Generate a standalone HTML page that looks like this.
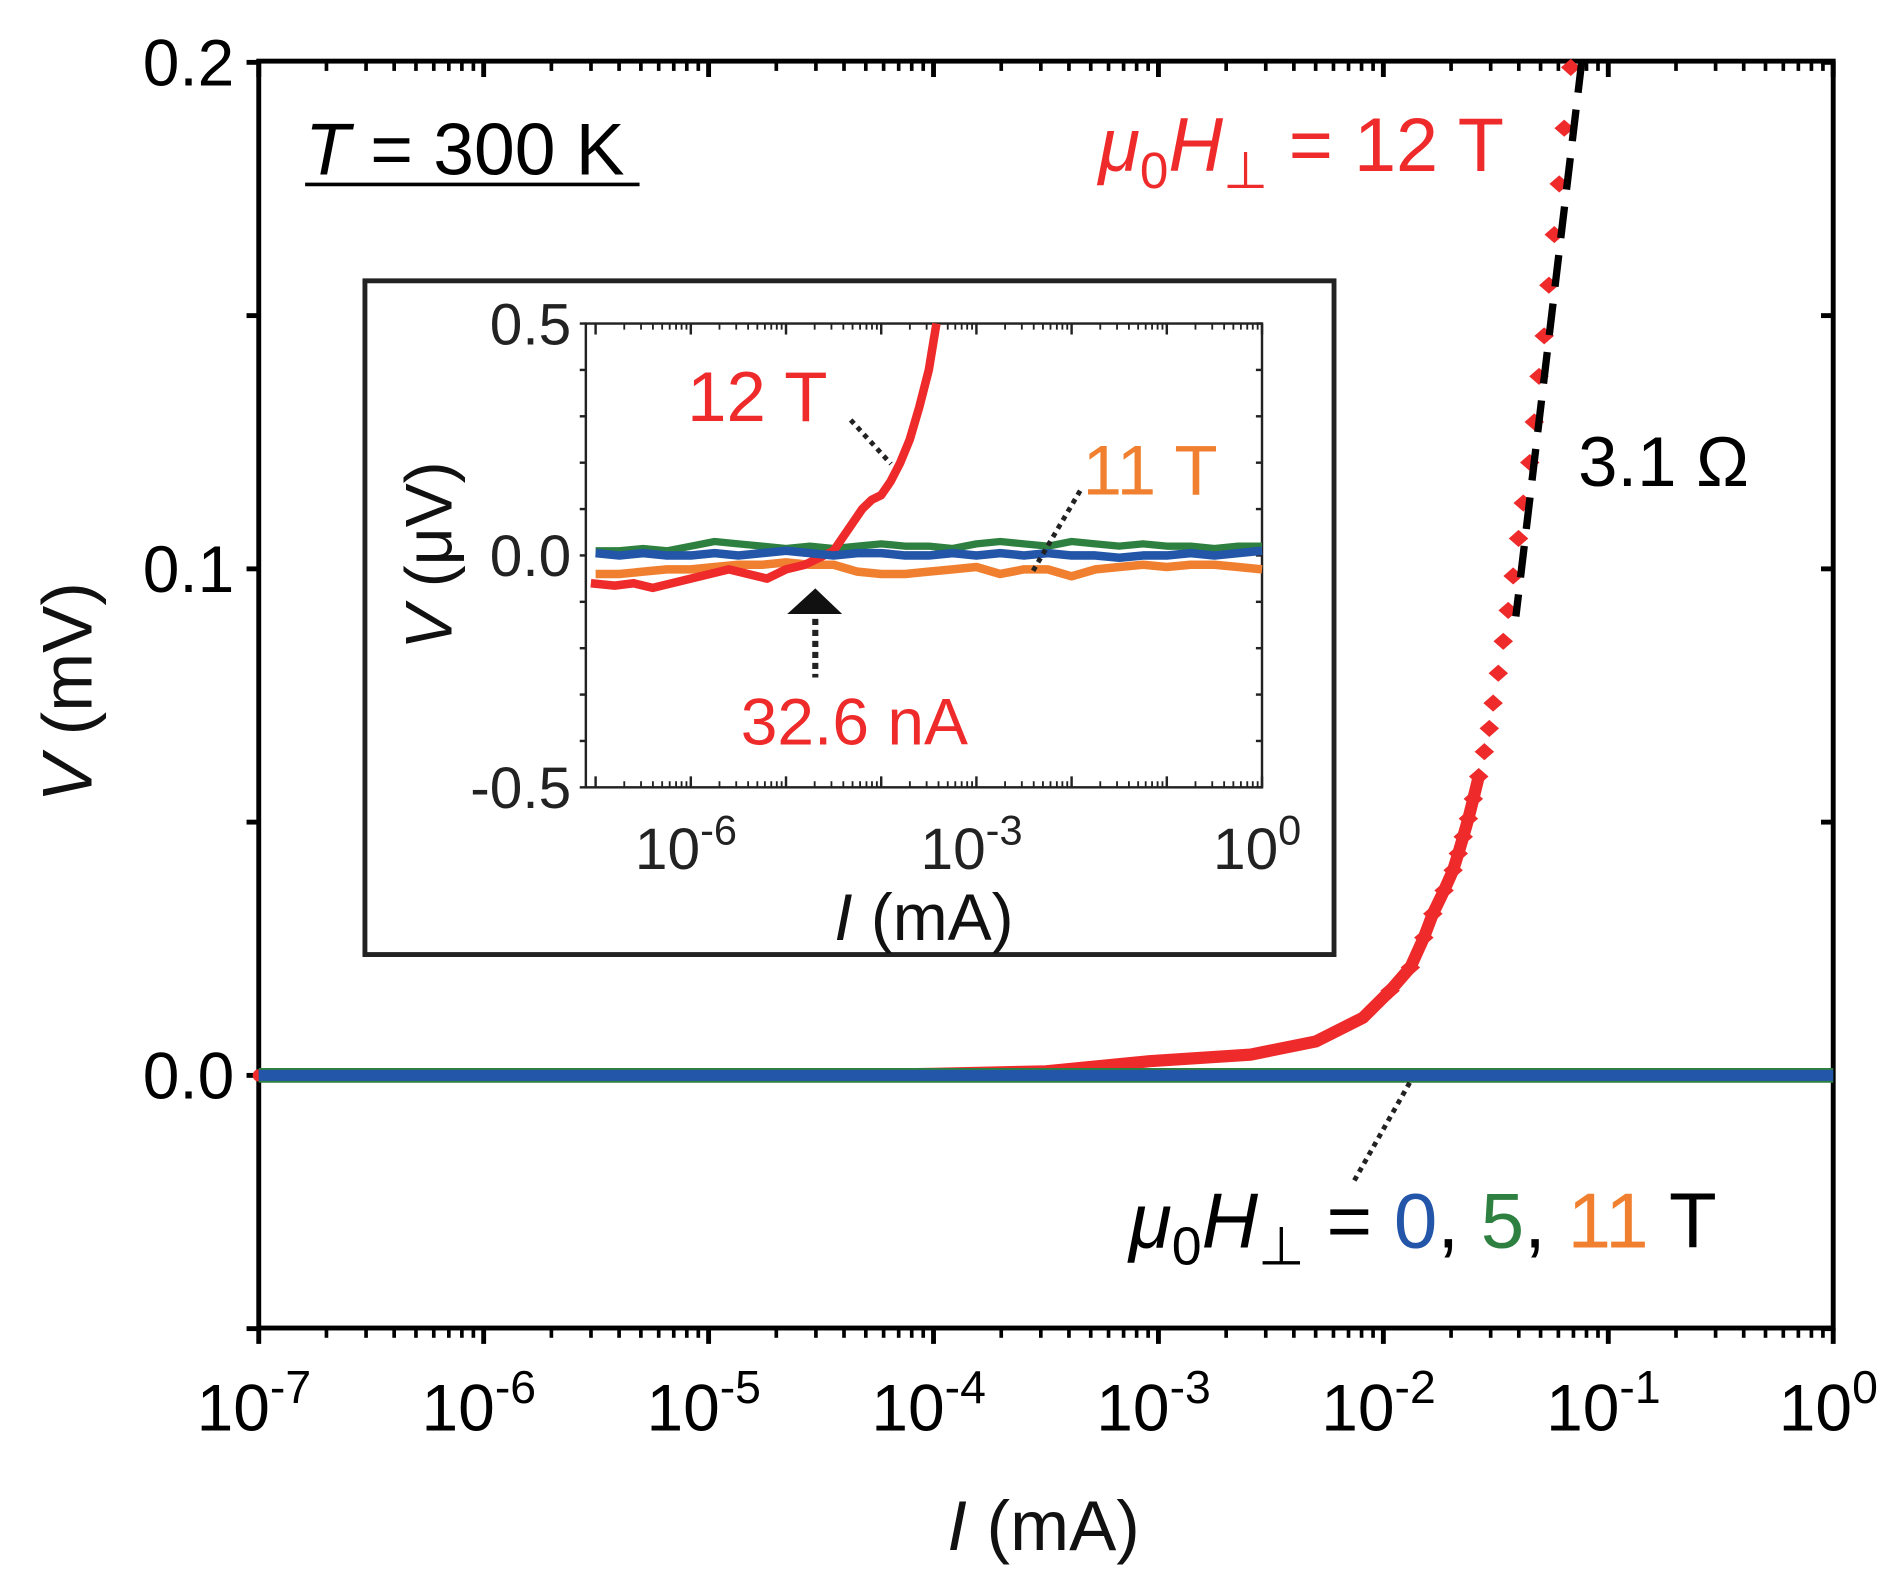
<!DOCTYPE html>
<html><head><meta charset="utf-8"><style>
html,body{margin:0;padding:0;background:#fff;}
svg{display:block;}
text{font-family:"Liberation Sans",Arial,sans-serif;}
</style></head><body>
<svg id="chart" width="1904" height="1582" viewBox="0 0 1560 1296" xmlns="http://www.w3.org/2000/svg">
<g id="main"></g>
<g id="inset"></g>
<g id="ann">
  <text x="250" y="143" font-size="60"><tspan font-style="italic">T</tspan> = 300 K</text>
  <line x1="250" y1="151" x2="524" y2="151" stroke="#000" stroke-width="3"/>
  <text x="900" y="140" font-size="62" fill="#ee2a2a"><tspan font-style="italic">μ</tspan><tspan font-size="42" dy="14">0</tspan><tspan font-style="italic" dy="-14">H</tspan><tspan font-size="42" dy="14">⊥</tspan><tspan dy="-14"> = 12 T</tspan></text>
  <text x="1293" y="398" font-size="58">3.1 Ω</text>
  <text x="925" y="1022" font-size="64"><tspan font-style="italic">μ</tspan><tspan font-size="44" dy="14">0</tspan><tspan font-style="italic" dy="-14">H</tspan><tspan font-size="44" dy="14">⊥</tspan><tspan dy="-14"> = </tspan><tspan fill="#2356a8">0</tspan>, <tspan fill="#2e8040">5</tspan>, <tspan fill="#f08030">11</tspan> T</text>
  <line x1="1155" y1="887" x2="1108" y2="970" stroke="#222" stroke-width="4" stroke-dasharray="4,4"/>
  <line x1="1296" y1="50" x2="1242" y2="505" stroke="#000" stroke-width="6" stroke-dasharray="26,14"/>
</g>
</svg>
<script>
// ---------- main data ----------
const mainRedLogI = [-7,-6.5,-6,-5.5,-5,-4.5,-4,-3.5,-3.04,-2.59,-2.3,-2.09,-1.97,-1.88,-1.82,-1.78,-1.73,-1.69,-1.667,-1.645,-1.622,-1.6,-1.576,-1.551,-1.529,-1.512,-1.489,-1.467,-1.445,-1.423,-1.399,-1.378,-1.349,-1.329,-1.308,-1.285,-1.264,-1.24,-1.218,-1.196,-1.167];
const mainRedV = [0,0,0,0,0,0,0.0003,0.0008,0.0028,0.0041,0.0067,0.0114,0.0167,0.0213,0.0272,0.0319,0.0365,0.0405,0.0438,0.0471,0.0507,0.0546,0.059,0.0639,0.0685,0.0735,0.0794,0.0857,0.0918,0.0986,0.106,0.113,0.121,0.129,0.138,0.146,0.156,0.166,0.176,0.187,0.199];
const mainFlatLogI = [-7,-6,-5,-4,-3,-2,-1,0];
const mainBlueV = [0,0,0,0,0,0,0,0];
const mainGreenV = [0,0,0,0,0,0,0,0];
const mainYTicks = [0.2,0.1,0.0];
const mainYTickLabels = ["0.2","0.1","0.0"];
const mainXDecades = [-7,-6,-5,-4,-3,-2,-1,0];
// ---------- inset data ----------
const insetLogI = [-7,-6.75,-6.5,-6.25,-6,-5.75,-5.5,-5.25,-5,-4.75,-4.5,-4.25,-4,-3.75,-3.5,-3.25,-3,-2.75,-2.5,-2.25,-2,-1.75,-1.5,-1.25,-1,-0.75,-0.5,-0.25,0];
const insetOrangeV = [-0.04,-0.04,-0.035,-0.03,-0.03,-0.025,-0.02,-0.02,-0.015,-0.02,-0.02,-0.035,-0.04,-0.04,-0.035,-0.03,-0.025,-0.04,-0.03,-0.03,-0.045,-0.03,-0.025,-0.02,-0.025,-0.02,-0.02,-0.025,-0.03];
const insetGreenV = [0.01,0.01,0.015,0.01,0.02,0.03,0.025,0.02,0.015,0.02,0.015,0.02,0.025,0.02,0.02,0.015,0.025,0.03,0.025,0.02,0.03,0.025,0.02,0.025,0.02,0.02,0.015,0.02,0.02];
const insetBlueV = [0.005,0,0.005,0,0,0.005,0,0.005,0.01,0.005,0,0.005,0.005,0,0,0.005,0,0.005,0,0.005,0,0,-0.005,0,0,0.005,0,0.005,0.01];
const insetRedLogI = [-7.05,-6.8,-6.6,-6.4,-6.2,-6.0,-5.8,-5.6,-5.4,-5.2,-5.0,-4.8,-4.7,-4.6,-4.5,-4.4,-4.3,-4.2,-4.1,-4.0,-3.9,-3.8,-3.7,-3.6,-3.5,-3.42];
const insetRedV = [-0.06,-0.065,-0.06,-0.07,-0.06,-0.05,-0.04,-0.03,-0.04,-0.05,-0.03,-0.02,-0.01,0.0,0.01,0.04,0.07,0.10,0.12,0.13,0.16,0.2,0.25,0.32,0.4,0.5];
const insetYTicks = [0.5,0.0,-0.5];
const insetYTickLabels = ["0.5","0.0","-0.5"];
const insetXLabelDecades = [-6,-3,0];

const NS="http://www.w3.org/2000/svg";
function mk(parent,tag,attrs){const e=document.createElementNS(NS,tag);for(const k in attrs)e.setAttribute(k,attrs[k]);parent.appendChild(e);return e;}
function sup(parent,x,y,fs,sfs,base,exp,fill){
  const t=mk(parent,'text',{x:x,y:y,'font-size':fs,'text-anchor':'middle',fill:fill});
  const a=mk(t,'tspan',{}); a.textContent=base;
  const b=mk(t,'tspan',{'font-size':sfs,dy:-fs*0.42}); b.textContent=exp;
  return t;
}
function ital(parent,x,y,fs,it,rest,extra){
  const t=mk(parent,'text',Object.assign({x:x,y:y,'font-size':fs,'text-anchor':'middle',fill:'#111'},extra||{}));
  const a=mk(t,'tspan',{'font-style':'italic'}); a.textContent=it;
  const b=mk(t,'tspan',{}); b.textContent=rest;
  return t;
}

// main axes
const MX0=212,MX1=1502,MY0=50,MY1=1088;
const mx=l=>MX0+(l+7)/7*(MX1-MX0);
const my=v=>881-(v)*4150;
const gm=document.getElementById('main');
let fr=mk(gm,'rect',{x:MX0,y:MY0,width:MX1-MX0,height:MY1-MY0,fill:'none',stroke:'#000','stroke-width':4});


for(let d=-7;d<=0;d++){
  const x=mx(d);
  mk(gm,'line',{x1:x,y1:MY1,x2:x,y2:MY1+13,stroke:'#000','stroke-width':4});
  mk(gm,'line',{x1:x,y1:MY0,x2:x,y2:MY0+13,stroke:'#000','stroke-width':4});
  if(d<0)for(let m=2;m<=9;m++){const xm=mx(d+Math.log10(m));
    mk(gm,'line',{x1:xm,y1:MY1,x2:xm,y2:MY1+8,stroke:'#000','stroke-width':3});
    mk(gm,'line',{x1:xm,y1:MY0,x2:xm,y2:MY0+8,stroke:'#000','stroke-width':3});}
}
mainXDecades.forEach(d=>{
  const t=sup(gm,mx(d)-4,1172,54,38,'10',String(d),'#000');
  
  
});
[0.2,0.15,0.1,0.05,0,-0.05].forEach(v=>{
  const y=my(v);
  mk(gm,'line',{x1:MX0-10,y1:y,x2:MX0,y2:y,stroke:'#000','stroke-width':4});
  mk(gm,'line',{x1:MX1-10,y1:y,x2:MX1,y2:y,stroke:'#000','stroke-width':4});
});
mainYTicks.forEach((v,i)=>{
  const t=mk(gm,'text',{x:192,y:my(v)+19,'font-size':54,'text-anchor':'end'});
  
  
  t.textContent=mainYTickLabels[i];
});
let xt=ital(gm,855,1270,58,'I',' (mA)');


let yt=ital(gm,0,0,58,'V',' (mV)',{transform:'translate(75,567) rotate(-90)'});


// red series: dense (line) part + diamonds
const redPts=mainRedLogI.map((l,i)=>[mx(l),my(mainRedV[i])]);
const densePts=redPts.filter((p,i)=>mainRedV[i]<=0.06);
let rl=mk(gm,'polyline',{points:densePts.map(p=>p[0]+','+p[1]).join(' '),fill:'none',stroke:'#ee2a2a','stroke-width':10,'stroke-linejoin':'round','stroke-linecap':'round'});


let gl=mk(gm,'polyline',{points:mainFlatLogI.map((l,i)=>mx(l)+','+my(mainGreenV[i])).join(' '),fill:'none',stroke:'#2e8040','stroke-width':12});


let bl=mk(gm,'polyline',{points:mainFlatLogI.map((l,i)=>mx(l)+','+my(mainBlueV[i])).join(' '),fill:'none',stroke:'#2356a8','stroke-width':9});


redPts.forEach(([x,y],i)=>{
  if(mainRedV[i]<0.012)return;
  const p=mk(gm,'polygon',{points:`${x},${y-7} ${x+8},${y} ${x},${y+7} ${x-8},${y}`,fill:'#ee2a2a'});
  
  
});

// inset
const gi=document.getElementById('inset');
let ib=mk(gi,'rect',{x:299,y:230,width:794,height:552,fill:'#fff',stroke:'#222','stroke-width':4});


const IX0=480,IX1=1034,IY0=265,IY1=645;
const ix=l=>1034+l*78;
const iy=v=>455-v*380;
let ifr=mk(gi,'rect',{x:IX0,y:IY0,width:IX1-IX0,height:IY1-IY0,fill:'none',stroke:'#222','stroke-width':2});


for(let d=-7;d<=0;d++){
  const x=ix(d);
  if(x>=IX0){mk(gi,'line',{x1:x,y1:IY1,x2:x,y2:IY1-9,stroke:'#222','stroke-width':2});
  mk(gi,'line',{x1:x,y1:IY0,x2:x,y2:IY0+9,stroke:'#222','stroke-width':2});}
  if(d<0)for(let m=2;m<=9;m++){const xm=ix(d+Math.log10(m));if(xm<IX0)continue;
    mk(gi,'line',{x1:xm,y1:IY1,x2:xm,y2:IY1-5,stroke:'#222','stroke-width':1.5});
    mk(gi,'line',{x1:xm,y1:IY0,x2:xm,y2:IY0+5,stroke:'#222','stroke-width':1.5});}
}
for(let k=-5;k<=5;k++){const y=iy(k/10);
  mk(gi,'line',{x1:IX0-5,y1:y,x2:IX0,y2:y,stroke:'#222','stroke-width':2});
  mk(gi,'line',{x1:IX1-5,y1:y,x2:IX1,y2:y,stroke:'#222','stroke-width':2});}
insetYTicks.forEach((v,i)=>{
  const t=mk(gi,'text',{x:468,y:iy(v)+17,'font-size':48,'text-anchor':'end',fill:'#222'});
  
  
  t.textContent=insetYTickLabels[i];
});
insetXLabelDecades.forEach(d=>{
  const t=sup(gi,ix(d)-4,712,48,34,'10',String(d),'#222');
  
  
});
let ixt=ital(gi,757,770,54,'I',' (mA)');


let iyt=ital(gi,0,0,54,'V',' (μV)',{transform:'translate(370,455) rotate(-90)'});


function iline(lx,vals,color,w,name){
  const p=mk(gi,'polyline',{points:lx.map((l,i)=>ix(l)+','+iy(vals[i])).join(' '),fill:'none',stroke:color,'stroke-width':w,'stroke-linejoin':'round'});
  
  
}
iline(insetLogI,insetGreenV,'#2e8040',6,'inset-series-5T');
iline(insetLogI,insetOrangeV,'#f08030',7,'inset-series-11T');
iline(insetRedLogI,insetRedV,'#ee2a2a',7,'inset-series-12T');
iline(insetLogI,insetBlueV,'#2356a8',7,'inset-series-0T');
let a1=mk(gi,'text',{x:563,y:345,'font-size':58,fill:'#ee2a2a'});


a1.textContent='12 T';
let a2=mk(gi,'text',{x:887,y:405,'font-size':58,fill:'#f08030'});


a2.textContent='11 T';
let a3=mk(gi,'text',{x:700,y:610,'font-size':54,fill:'#ee2a2a','text-anchor':'middle'});


a3.textContent='32.6 nA';
let ar=mk(gi,'polygon',{points:'645,503 690,503 668,482',fill:'#111'});


mk(gi,'line',{x1:668,y1:507,x2:668,y2:555,stroke:'#222','stroke-width':5,'stroke-dasharray':'5,4'});
mk(gi,'line',{x1:697,y1:344,x2:730,y2:380,stroke:'#222','stroke-width':4,'stroke-dasharray':'4,4'});
mk(gi,'line',{x1:885,y1:402,x2:845,y2:470,stroke:'#222','stroke-width':4,'stroke-dasharray':'4,4'});
</script>
</body></html>
